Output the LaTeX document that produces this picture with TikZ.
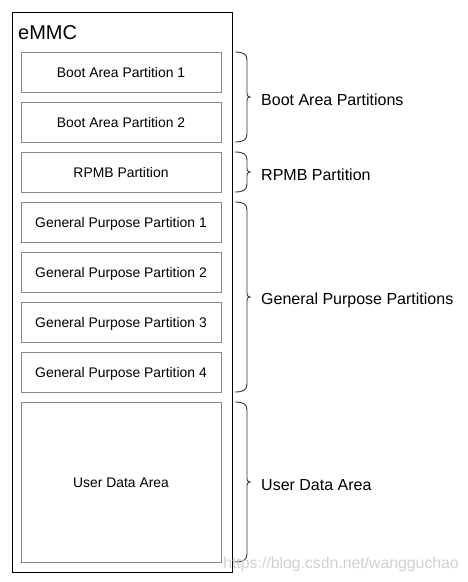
\documentclass[tikz,border=0pt]{standalone}
\usepackage{fontspec}
\setmainfont{Liberation Sans}
\definecolor{boxgray}{HTML}{888888}
\definecolor{bracegray}{HTML}{333333}
\newcommand{\boxtxt}[1]{\raisebox{-5.6pt}[0pt][0pt]{#1}}
\begin{document}
\begin{tikzpicture}[x=1pt,y=-1pt,
  part/.style={draw=boxgray,line width=0.9pt,minimum width=200pt,minimum height=40pt,inner sep=0pt,font=\fontsize{13.9}{16}\selectfont},
  outer/.style={draw=black,line width=1pt},
  lbl/.style={anchor=west,inner sep=0pt,font=\fontsize{16}{19}\selectfont},
  brc/.style={draw=bracegray,line width=0.9pt}]
\useasboundingbox[fill=white] (0,0) rectangle (468,582);
\node[outer,minimum width=220pt,minimum height=560pt,inner sep=0pt] (emmc) at (122,292) {};
\node[anchor=base west,inner sep=0pt,font=\fontsize{20}{24}\selectfont] (title) at (18,39) {eMMC};
\node[part] (b1) at (121,72) {\boxtxt{Boot Area Partition 1}};
\node[part] (b2) at (121,122) {\boxtxt{Boot Area Partition 2}};
\node[part] (rp) at (121,172) {\boxtxt{RPMB Partition}};
\node[part] (g1) at (121,222) {\boxtxt{General Purpose Partition 1}};
\node[part] (g2) at (121,272) {\boxtxt{General Purpose Partition 2}};
\node[part] (g3) at (121,322) {\boxtxt{General Purpose Partition 3}};
\node[part] (g4) at (121,372) {\boxtxt{General Purpose Partition 4}};
\node[part,minimum height=160pt] (ud) at (121,482) {\boxtxt{User Data Area}};
% braces
\newcommand{\mybrace}[2]{%
  \draw[brc] (235,#1) .. controls (243,#1) and (247,#1+2) .. (247,#1+8)
    -- (247,{(#1+#2)/2-4}) .. controls (247,{(#1+#2)/2-1}) .. (250,{(#1+#2)/2})
    .. controls (247,{(#1+#2)/2+1}) .. (247,{(#1+#2)/2+4})
    -- (247,#2-8) .. controls (247,#2-2) and (243,#2) .. (235,#2);}
\mybrace{52}{142}
\mybrace{152}{192}
\mybrace{202}{392}
\mybrace{402}{562}
\node[lbl] (lb) at (261,100) {Boot Area Partitions};
\node[lbl] (lr) at (261,175) {RPMB Partition};
\node[lbl] (lg) at (261,300) {General Purpose Partitions};
\node[lbl] (lu) at (261,485) {User Data Area};
\node[anchor=base east,inner sep=0pt,text=black!18,font=\fontsize{15.8}{18}\selectfont] (wm) at (459,568) {https://blog.csdn.net/wangguchao};
\end{tikzpicture}
\end{document}
